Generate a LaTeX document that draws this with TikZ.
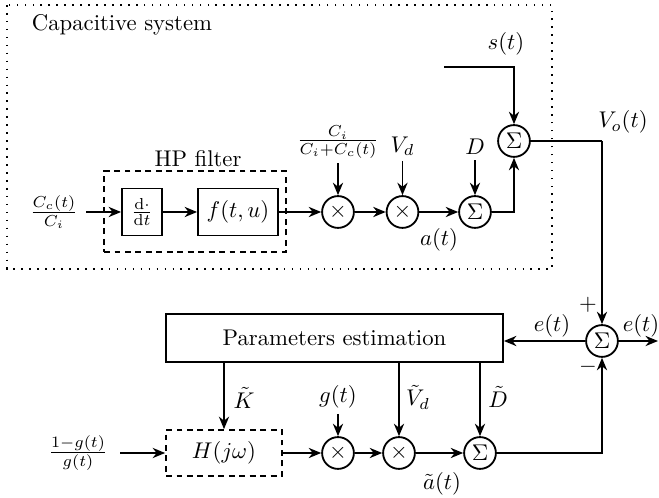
\documentclass[tikz,border=0pt]{standalone}
\usetikzlibrary{arrows.meta}
\begin{document}
\begin{tikzpicture}[x=0.44pt,y=-0.44pt,
  line width=0.8pt, >={Stealth[length=5.5pt,width=4.5pt]},
  blk/.style={draw, rectangle, inner sep=0pt},
  dblk/.style={blk, dash pattern=on 2.6pt off 2pt},
  op/.style={draw, circle, inner sep=0pt, minimum size=14pt},
  lbl/.style={inner sep=2pt}]
\useasboundingbox (0,0) rectangle (659,498);
% capacitive system frame
\draw[line width=0.7pt, dash pattern=on 0.7pt off 2.8pt] (7,5) rectangle (552,269);
\node[anchor=west, inner sep=0pt] (cap) at (31,25) {Capacitive system};
% top chain
\node[lbl] (in1) at (54,212) {$\frac{C_c(t)}{C_i}$};
\coordinate (in1s) at (86,212);
\node[dblk, minimum width=80pt, minimum height=35.6pt] (hp) at (195,211.5) {};
\node[inner sep=0pt] (hpl) at (198,159) {HP filter};
\node[blk, minimum width=17.6pt, minimum height=20.7pt] (ddt) at (142,212) {$\frac{\mathrm{d}\cdot}{\mathrm{d}t}$};
\node[blk, minimum width=35.2pt, minimum height=20.7pt] (f) at (238,212) {$f(t,u)$};
\node[op] (m1) at (338,212) {$\times$};
\node[op] (m2) at (402.5,212) {$\times$};
\node[op] (s1) at (475,212) {$\Sigma$};
\node[op] (s2) at (514,141) {$\Sigma$};
\node[lbl] (fr) at (338,142) {$\frac{C_i}{C_i+C_c(t)}$};
\node[lbl] (vd) at (402.5,146) {$V_d$};
\node[lbl] (dd) at (475,147) {$D$};
\node[lbl] (st) at (506,44) {$s(t)$};
\coordinate (sts) at (444,67);
\node[lbl] (vo) at (623,122) {$V_o(t)$};
\node[lbl] (at) at (439,240) {$a(t)$};
\coordinate (c1) at (602,141);
\draw[->] (in1s) -- (ddt.west);
\draw[->] (ddt.east) -- (f.west);
\draw[->] (f.east) -- (m1.west);
\draw[->] (m1.east) -- (m2.west);
\draw[->] (m2.east) -- (s1.west);
\draw[->] (m1.north |- fr.south) -- (m1.north);
\draw[->] (m2.north |- vd.south) -- (m2.north);
\draw[->] (s1.north |- dd.south) -- (s1.north);
\draw[->] (s1.east) -| (s2.south);
\draw[->] (sts) -| (s2.north);
% bottom part
\node[blk, minimum width=148.3pt, minimum height=21.1pt] (pe) at (334.5,338) {Parameters estimation};
\node[op] (es) at (602,341) {$\Sigma$};
\node[lbl] (el) at (552,326) {$e(t)$};
\node[lbl] (er) at (641,326) {$e(t)$};
\coordinate (eo) at (658,341);
\node[inner sep=0pt] (pl) at (588,305) {$+$};
\node[inner sep=0pt] (mi) at (588,367) {$-$};
\node[dblk, minimum width=51pt, minimum height=20.2pt] (h) at (224,453) {$H(j\omega)$};
\node[lbl] (in2) at (78,453) {$\frac{1-g(t)}{g(t)}$};
\coordinate (in2s) at (120,453);
\node[op] (m3) at (338,453) {$\times$};
\node[op] (m4) at (399,453) {$\times$};
\node[op] (s3) at (480,453) {$\Sigma$};
\node[lbl] (gt) at (338,397) {$g(t)$};
\node[lbl] (kt) at (244,398) {$\tilde{K}$};
\node[lbl] (vdt) at (418,397) {$\tilde{V}_d$};
\node[lbl] (dt) at (498,397) {$\tilde{D}$};
\node[lbl] (att) at (442,484) {$\tilde{a}(t)$};
\draw (s2.east) -- (c1);
\draw[->] (c1) -- (es.north);
\draw[->] (es.west) -- (es.west -| pe.east);
\draw[->] (es.east) -- (eo);
\draw[->] (in2s) -- (h.west);
\draw[->] (h.north |- pe.south) -- (h.north);
\draw[->] (m4.north |- pe.south) -- (m4.north);
\draw[->] (s3.north |- pe.south) -- (s3.north);
\draw[->] (m3.north |- gt.south) -- (m3.north);
\draw[->] (h.east) -- (m3.west);
\draw[->] (m3.east) -- (m4.west);
\draw[->] (m4.east) -- (s3.west);
\draw[->] (s3.east) -| (es.south);
\end{tikzpicture}
\end{document}
